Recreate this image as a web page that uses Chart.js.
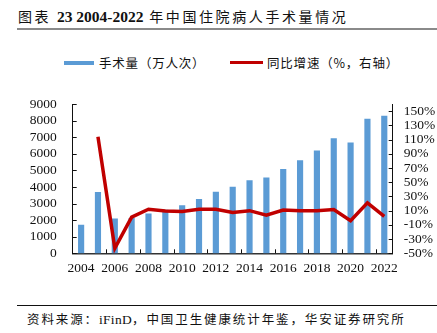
<!DOCTYPE html>
<html>
<head>
<meta charset="utf-8">
<script src="https://cdn.jsdelivr.net/npm/chart.js@4"></script>
<style>
  body { margin: 0; background: #fff; }
  #page { position: relative; width: 437px; height: 333px; overflow: hidden; font-family: "Noto Sans CJK SC", sans-serif; color: #111; }
  .abs { position: absolute; white-space: nowrap; }
  #title { left: 18px; top: 6px; font-size: 14px; line-height: 20px; letter-spacing: 2.6px; }
  #title .num { font-family: "Liberation Serif", serif; font-weight: bold; font-size: 15.5px; letter-spacing: 0; }
  #titleRule { left: 17px; top: 28px; width: 420px; height: 2px; background: #8a8a8a; }
  .leg { font-size: 12.5px; line-height: 16px; top: 55px; letter-spacing: 0.8px; }
  #footRule { left: 17px; top: 305px; width: 420px; height: 1px; background: #111; }
  #foot { left: 27px; top: 310px; font-size: 12.5px; line-height: 18px; letter-spacing: 1.9px; }
  #foot .lat { font-family: "Liberation Serif", serif; font-size: 13.5px; letter-spacing: 0.3px; }
  #myChart { position: absolute; left: 0; top: 80px; }
</style>
</head>
<body>
<div id="page">
  <div id="title" class="abs">图表 <span class="num">23 2004-2022</span> 年中国住院病人手术量情况</div>
  <div id="titleRule" class="abs"></div>

  <div class="abs" style="left:64px;top:60.7px;width:30px;height:4.4px;background:#5B9BD5"></div>
  <div class="abs leg" style="left:99px">手术量（万人次）</div>
  <div class="abs" style="left:230px;top:61px;width:33px;height:3.2px;background:#C00000"></div>
  <div class="abs leg" style="left:267px">同比增速（%，右轴）</div>

  <canvas id="myChart" width="437" height="200"></canvas>

  <div id="footRule" class="abs"></div>
  <div id="foot" class="abs">资料来源：<span class="lat">iFinD</span>，中国卫生健康统计年鉴，华安证券研究所</div>
</div>

<script>
const years = ['2004', '2005', '2006', '2007', '2008', '2009', '2010', '2011', '2012', '2013',
               '2014', '2015', '2016', '2017', '2018', '2019', '2020', '2021', '2022'];
// surgeries, 10k operations
const surgeries = [1700, 3680, 2080, 2110, 2380, 2600, 2880, 3260, 3690, 4000,
                   4380, 4550, 5070, 5600, 6180, 6920, 6670, 8100, 8280];
// year-on-year growth, %
const growth = [null, 114, -43, 1, 12, 9.5, 9, 12, 12, 7.5,
                10, 3.5, 11, 10, 10, 11.5, -4, 21, 2];
const leftTicks = [0, 1000, 2000, 3000, 4000, 5000, 6000, 7000, 8000, 9000];
const rightTicks = [-50, -30, -10, 10, 30, 50, 70, 90, 110, 130, 150];

const serif = { family: 'Liberation Serif', size: 13.5 };

// short inward tick marks on all three axes
const innerTicks = {
    id: 'innerTicks',
    afterDraw(chart) {
        const ctx = chart.ctx;
        const x = chart.scales.x, y = chart.scales.y, y1 = chart.scales.y1;
        ctx.save();
        ctx.strokeStyle = '#111';
        ctx.lineWidth = 1;
        ctx.beginPath();
        y.ticks.forEach(function (t) {
            const py = Math.round(y.getPixelForValue(t.value)) + 0.5;
            ctx.moveTo(y.right, py);
            ctx.lineTo(y.right + 4, py);
        });
        y1.ticks.forEach(function (t) {
            const py = Math.round(y1.getPixelForValue(t.value)) + 0.5;
            ctx.moveTo(y1.left - 4, py);
            ctx.lineTo(y1.left, py);
        });
        for (let i = 1; i < years.length - 1; i += 2) {
            const px = Math.round((x.getPixelForValue(i) + x.getPixelForValue(i + 1)) / 2) + 0.5;
            ctx.moveTo(px, x.top);
            ctx.lineTo(px, x.top - 4);
        }
        ctx.stroke();
        ctx.restore();
    }
};

const config = {
    data: {
        labels: years,
        datasets: [
            {
                type: 'line',
                label: '同比增速（%，右轴）',
                data: growth,
                yAxisID: 'y1',
                borderColor: '#C00000',
                borderWidth: 3.5,
                pointRadius: 0,
                tension: 0,
                order: 0
            },
            {
                type: 'bar',
                label: '手术量（万人次）',
                data: surgeries,
                yAxisID: 'y',
                backgroundColor: '#5B9BD5',
                barThickness: 5.5,
                order: 1
            }
        ]
    },
    options: {
        responsive: false,
        animation: false,
        devicePixelRatio: 1,
        layout: { padding: { top: 16.7, left: 0, right: 0, bottom: 0 } },
        plugins: {
            legend: { display: false },
            tooltip: { enabled: false }
        },
        scales: {
            x: {
                offset: true,
                grid: { display: false, drawTicks: false },
                border: { display: true, color: '#333', width: 1.5 },
                ticks: {
                    color: '#111',
                    font: serif,
                    padding: 7,
                    maxRotation: 0,
                    autoSkip: false,
                    callback: function (val, i) {
                        return i % 2 === 0 ? years[i] : '';
                    }
                },
                afterFit: function (scale) { scale.height = 26.7; }
            },
            y: {
                position: 'left',
                min: 0,
                max: 9000,
                grid: { display: false, drawTicks: false },
                border: { display: true, color: '#111', width: 1 },
                afterBuildTicks: function (scale) {
                    scale.ticks = leftTicks.map(function (v) { return { value: v }; });
                },
                ticks: {
                    color: '#111',
                    font: serif,
                    padding: 16,
                    autoSkip: false,
                    callback: function (v) { return String(v); }
                },
                afterFit: function (scale) { scale.width = 72.7; }
            },
            y1: {
                position: 'right',
                min: -50,
                max: 160,
                grid: { display: false, drawTicks: false },
                border: { display: true, color: '#111', width: 1 },
                afterBuildTicks: function (scale) {
                    scale.ticks = rightTicks.map(function (v) { return { value: v }; });
                },
                ticks: {
                    color: '#111',
                    font: serif,
                    padding: 11,
                    autoSkip: false,
                    callback: function (v) { return v + '%'; }
                },
                afterFit: function (scale) { scale.width = 44.3; }
            }
        }
    },
    plugins: [innerTicks]
};

const myChart = new Chart(
    document.getElementById('myChart'),
    config
);
</script>
</body>
</html>
